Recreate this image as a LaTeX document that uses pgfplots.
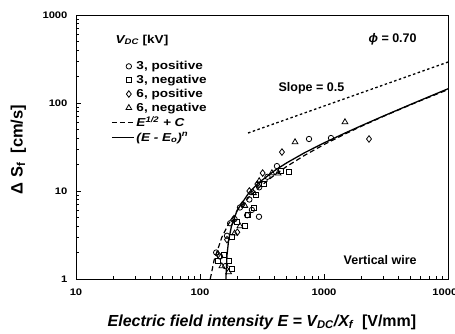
\documentclass[border=0pt]{standalone}
\usepackage{pgfplots}
\pgfplotsset{compat=1.18}
\usepackage{fontspec}
\setmainfont{Liberation Sans}
\newfontfamily\widefont{Liberation Sans}[FakeStretch=1.18]
\pgfplotsset{
  markleg/.style={legend image code/.code={\path[draw=none] (0pt,0pt) -- (22pt,0pt); \draw[##1] plot coordinates {(17pt,0pt)};}},
  lineleg/.style={legend image code/.code={\draw[##1] (0pt,0pt) -- (22pt,0pt);}},
}
\begin{document}
\begin{tikzpicture}
\begin{axis}[
  xmode=log, ymode=log,
  scale only axis, width=372pt, height=264pt,
  xmin=10, xmax=10000, ymin=1, ymax=1000,
  xtick={10,100,1000,10000}, xticklabels={10,100,1000,10000},
  ytick={1,10,100,1000}, yticklabels={1,10,100,1000},
  tick pos=left, tick align=inside,
  major tick length=5pt, minor tick length=3.5pt,
  every tick/.style={black, line width=0.6pt},
  axis line style={line width=0.8pt},
  tick label style={font=\widefont\bfseries\fontsize{9.5}{11}\selectfont},
  xticklabel style={yshift=-6pt},
  yticklabel style={xshift=-5pt},
  /pgf/number format/assume math mode=true,
  xlabel={\bfseries\itshape Electric field intensity E = V\textsubscript{DC}/X\textsubscript{f}\ \ \upshape[V/mm]},
  xlabel style={at={(axis description cs:0.5,-0.163)}, anchor=center, font=\fontsize{16}{18}\selectfont},
  ylabel={\bfseries Δ S\textsubscript{f}\ \ [cm/s]},
  ylabel style={at={(axis description cs:-0.155,0.49)}, anchor=center, font=\fontsize{16.5}{18}\selectfont},
  legend style={draw=none, fill=none, at={(axis description cs:0.086,0.84)}, anchor=north west,
    font=\widefont\bfseries\fontsize{11.5}{13}\selectfont, row sep=0pt},
  legend cell align=left,
]
\addplot[only marks, mark=o, mark size=2.7pt, mark options={line width=0.8pt}, black, markleg]
 table {
135 2.0
145 1.8
160 1.4
165 3.1
175 4.3
190 4.8
210 6.5
250 8.0
240 5.3
262 6.1
299 5.1
300 11
350 14.5
417 19.2
757 39
1138 40
};
\addlegendentry{3, positive}
\addplot[only marks, mark=square, mark size=2.5pt, mark options={line width=0.8pt}, black, markleg]
 table {
140 1.6
155 1.9
170 1.6
180 1.3
180 3.0
200 4.5
230 4.0
245 5.3
270 6.5
280 9
330 12
450 17
522 16.4
};
\addlegendentry{3, negative}
\addplot[only marks, mark=diamond, mark size=3.3pt, mark options={line width=0.8pt}, black, markleg]
 table {
140 1.9
165 2.8
185 4.7
200 3.4
220 7
250 10
290 12
320 16
458 27.7
2307 39
};
\addlegendentry{6, positive}
\addplot[only marks, mark=triangle, mark size=3.3pt, mark options={line width=0.8pt}, black, markleg]
 table {
150 1.4
170 1.2
190 3.3
210 4.0
230 6.8
270 9.5
300 13
380 16
426 15.9
584 36
1476 60.8
};
\addlegendentry{6, negative}
\addplot[black, line width=1.2pt, dash pattern=on 5pt off 3pt, lineleg]
 table {
121 1.0
130 1.64
150 2.98
170 4.23
200 6.0
250 8.63
300 11.0
400 15.26
500 19.0
700 25.5
1000 33.7
1500 44.9
2000 54.4
3000 70.3
5000 95.6
7000 116.1
10000 142.0
};
\addlegendentry{\itshape E\textsuperscript{1/2} + C}
\addplot[black, line width=1.3pt, lineleg]
 table {
161.7 0.987
165 1.84
170 2.74
180 4.08
200 6.09
250 9.71
300 12.52
400 17.08
500 20.88
700 27.3
1000 35.2
1500 46.0
2000 55.2
3000 70.9
5000 96.4
7000 117.6
10000 145
};
\addlegendentry{\itshape (E - E\textsubscript{o})\textsuperscript{n}}
\addplot[black, line width=1.3pt, dash pattern=on 2.5pt off 2.5pt, forget plot]
 table {
244 45.6
10000 292
};
\node[anchor=west, font=\widefont\bfseries\fontsize{11.5}{13}\selectfont] at (rel axis cs:0.097,0.905) {\itshape V\textsubscript{DC}\upshape\ [kV]};
\node[anchor=west, font=\bfseries\fontsize{12.5}{14}\selectfont] at (rel axis cs:0.777,0.909) {\itshape ϕ\upshape\ = 0.70};
\node[anchor=west, font=\bfseries\fontsize{12.5}{14}\selectfont] at (rel axis cs:0.535,0.723) {Slope = 0.5};
\node[anchor=west, font=\bfseries\fontsize{12.5}{14}\selectfont] at (rel axis cs:0.71,0.072) {Vertical wire};
\end{axis}
\pgfresetboundingbox
\path (current axis.south west) ++(-76pt,-55pt) coordinate (bl);
\path (current axis.north east) ++(7pt,15pt) coordinate (tr);
\useasboundingbox (bl) rectangle (tr);
\end{tikzpicture}
\end{document}
